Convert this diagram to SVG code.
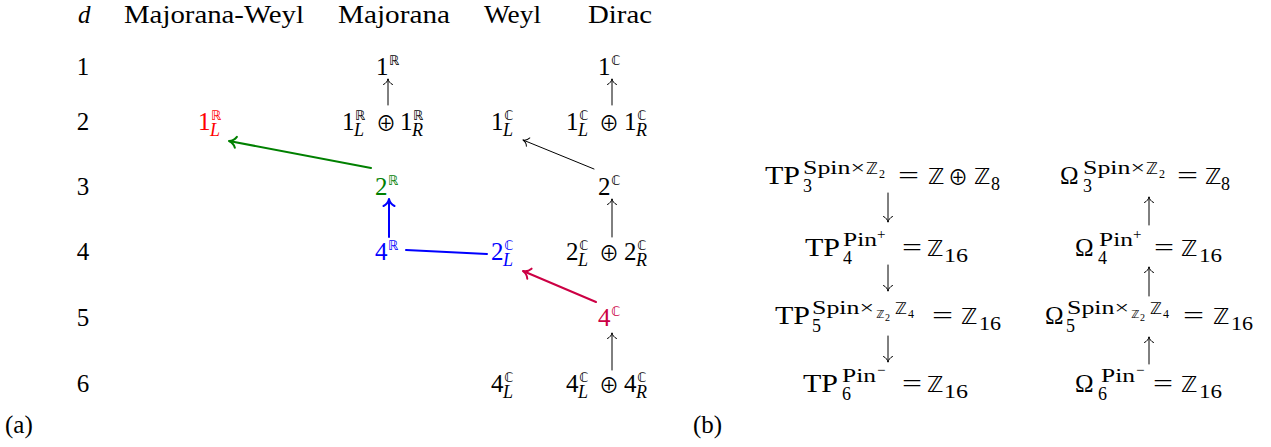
<svg xmlns="http://www.w3.org/2000/svg" width="1271" height="447" viewBox="0 0 1271 447">
<style>
text{font-family:"Liberation Serif","DejaVu Serif",serif;fill:#000}
.r{font-size:25px}
.sc{font-size:18px}
.it{font-style:italic}
.tiny{font-size:12px}
.pm{font-size:15px}
.bbs{font-family:"DejaVu Sans",sans-serif;font-size:13px}
.bbm{font-family:"DejaVu Sans",sans-serif;font-size:22px}
.bbt{font-family:"DejaVu Sans",sans-serif;font-size:16px}
.bbx{font-family:"DejaVu Sans",sans-serif;font-size:11px}
.op{font-family:"Noto Sans CJK JP","DejaVu Sans",sans-serif;font-size:20px}
.red text{fill:#ff0000}
.grn text{fill:#008000}
.blu text{fill:#0000ff}
.crm text{fill:#cc0044}
.ln{fill:none;stroke-linecap:round}
</style>
<defs>
<marker id="ak" viewBox="-7 -6 8 12" markerWidth="8" markerHeight="12" refX="0" refY="0" orient="auto" markerUnits="userSpaceOnUse"><path d="M-5.5,-4.5 C-4.5,-2 -1.8,-0.4 0,0 C-1.8,0.4 -4.5,2 -5.5,4.5" fill="none" stroke="#000" stroke-width="1" stroke-linecap="round"/></marker>
<marker id="ag" viewBox="-9 -7 10 14" markerWidth="10" markerHeight="14" refX="0" refY="0" orient="auto" markerUnits="userSpaceOnUse"><path d="M-7,-5.5 C-5.5,-2.5 -2.2,-0.5 0,0 C-2.2,0.5 -5.5,2.5 -7,5.5" fill="none" stroke="#008000" stroke-width="2" stroke-linecap="round"/></marker>
<marker id="ab" viewBox="-9 -7 10 14" markerWidth="10" markerHeight="14" refX="0" refY="0" orient="auto" markerUnits="userSpaceOnUse"><path d="M-7,-5.5 C-5.5,-2.5 -2.2,-0.5 0,0 C-2.2,0.5 -5.5,2.5 -7,5.5" fill="none" stroke="#0000ff" stroke-width="2" stroke-linecap="round"/></marker>
<marker id="ac" viewBox="-9 -7 10 14" markerWidth="10" markerHeight="14" refX="0" refY="0" orient="auto" markerUnits="userSpaceOnUse"><path d="M-7,-5.5 C-5.5,-2.5 -2.2,-0.5 0,0 C-2.2,0.5 -5.5,2.5 -7,5.5" fill="none" stroke="#cc0044" stroke-width="2" stroke-linecap="round"/></marker>
</defs>

<g id="headers">
<text class="r it" x="78" y="23">d</text>
<text class="r" x="124" y="23" textLength="180" lengthAdjust="spacingAndGlyphs">Majorana-Weyl</text>
<text class="r" x="338" y="23" textLength="112" lengthAdjust="spacingAndGlyphs">Majorana</text>
<text class="r" x="484" y="23" textLength="57" lengthAdjust="spacingAndGlyphs">Weyl</text>
<text class="r" x="588" y="23" textLength="64" lengthAdjust="spacingAndGlyphs">Dirac</text>
</g>
<g id="dcol" text-anchor="middle">
<text class="r" x="83" y="75">1</text>
<text class="r" x="83" y="130">2</text>
<text class="r" x="83" y="195">3</text>
<text class="r" x="83" y="260">4</text>
<text class="r" x="83" y="326">5</text>
<text class="r" x="83" y="392">6</text>
</g>

<g id="n1R"><text class="r" x="376" y="75">1</text><text class="bbs" x="389" y="65">ℝ</text></g>
<g id="n1C"><text class="r" x="598" y="75">1</text><text class="bbs" x="611" y="65">ℂ</text></g>

<g id="n1RL" class="red"><text class="r" x="198" y="130">1</text><text class="bbs" x="211" y="120">ℝ</text><text class="sc it" x="210" y="136">L</text></g>
<g id="n1RLR"><text class="r" x="342" y="130">1</text><text class="bbs" x="355" y="120">ℝ</text><text class="sc it" x="354" y="136">L</text><text class="op" x="376" y="131">⊕</text><text class="r" x="400" y="130">1</text><text class="bbs" x="413" y="120">ℝ</text><text class="sc it" x="412" y="136">R</text></g>
<g id="n1CL"><text class="r" x="491" y="130">1</text><text class="bbs" x="504" y="120">ℂ</text><text class="sc it" x="503" y="136">L</text></g>
<g id="n1CLR"><text class="r" x="566" y="130">1</text><text class="bbs" x="579" y="120">ℂ</text><text class="sc it" x="578" y="136">L</text><text class="op" x="599" y="131">⊕</text><text class="r" x="624" y="130">1</text><text class="bbs" x="637" y="120">ℂ</text><text class="sc it" x="636" y="136">R</text></g>

<g id="n2R" class="grn"><text class="r" x="375" y="195">2</text><text class="bbs" x="388" y="185">ℝ</text></g>
<g id="n2C"><text class="r" x="598" y="195">2</text><text class="bbs" x="611" y="185">ℂ</text></g>

<g id="n4R" class="blu"><text class="r" x="375" y="260">4</text><text class="bbs" x="388" y="250">ℝ</text></g>
<g id="n2CL" class="blu"><text class="r" x="491" y="260">2</text><text class="bbs" x="504" y="250">ℂ</text><text class="sc it" x="503" y="266">L</text></g>
<g id="n2CLR"><text class="r" x="566" y="260">2</text><text class="bbs" x="579" y="250">ℂ</text><text class="sc it" x="578" y="266">L</text><text class="op" x="599" y="261">⊕</text><text class="r" x="624" y="260">2</text><text class="bbs" x="637" y="250">ℂ</text><text class="sc it" x="636" y="266">R</text></g>

<g id="n4C" class="crm"><text class="r" x="598" y="326">4</text><text class="bbs" x="611" y="316">ℂ</text></g>

<g id="n4CL"><text class="r" x="491" y="392">4</text><text class="bbs" x="504" y="382">ℂ</text><text class="sc it" x="503" y="398">L</text></g>
<g id="n4CLR"><text class="r" x="566" y="392">4</text><text class="bbs" x="579" y="382">ℂ</text><text class="sc it" x="578" y="398">L</text><text class="op" x="599" y="393">⊕</text><text class="r" x="624" y="392">4</text><text class="bbs" x="637" y="382">ℂ</text><text class="sc it" x="636" y="398">R</text></g>

<g id="labels">
<text class="r" x="5" y="433">(a)</text>
<text class="r" x="693" y="433">(b)</text>
</g>

<g id="tp3">
<text class="r" x="765" y="184" textLength="35" lengthAdjust="spacingAndGlyphs">TP</text>
<text class="sc" x="803" y="174" textLength="62" lengthAdjust="spacingAndGlyphs">Spin×</text>
<text class="bbt" x="866" y="174">ℤ</text><text class="tiny" x="879" y="178">2</text>
<text class="sc" x="803" y="192">3</text>
<text class="r" x="898" y="184" textLength="21" lengthAdjust="spacingAndGlyphs">=</text>
<text class="bbm" x="928" y="184">ℤ</text>
<text class="op" x="948" y="185">⊕</text>
<text class="bbm" x="974" y="184">ℤ</text><text class="sc" x="991" y="190">8</text>
</g>
<g id="om3">
<text class="r" x="1060" y="184">Ω</text>
<text class="sc" x="1083" y="174" textLength="62" lengthAdjust="spacingAndGlyphs">Spin×</text>
<text class="bbt" x="1146" y="174">ℤ</text><text class="tiny" x="1159" y="178">2</text>
<text class="sc" x="1083" y="192">3</text>
<text class="r" x="1177" y="184" textLength="21" lengthAdjust="spacingAndGlyphs">=</text>
<text class="bbm" x="1205" y="184">ℤ</text><text class="sc" x="1221" y="190">8</text>
</g>

<g id="tp4">
<text class="r" x="805" y="256" textLength="35" lengthAdjust="spacingAndGlyphs">TP</text>
<text class="sc" x="843" y="246" textLength="34" lengthAdjust="spacingAndGlyphs">Pin</text><text class="pm" x="877" y="239">+</text>
<text class="sc" x="843" y="264">4</text>
<text class="r" x="902" y="256" textLength="20" lengthAdjust="spacingAndGlyphs">=</text>
<text class="bbm" x="927" y="256">ℤ</text><text class="sc" x="944" y="262" textLength="24" lengthAdjust="spacingAndGlyphs">16</text>
</g>
<g id="om4">
<text class="r" x="1075" y="256">Ω</text>
<text class="sc" x="1099" y="246" textLength="34" lengthAdjust="spacingAndGlyphs">Pin</text><text class="pm" x="1133" y="239">+</text>
<text class="sc" x="1098" y="264">4</text>
<text class="r" x="1154" y="256" textLength="20" lengthAdjust="spacingAndGlyphs">=</text>
<text class="bbm" x="1181" y="256">ℤ</text><text class="sc" x="1199" y="262" textLength="23" lengthAdjust="spacingAndGlyphs">16</text>
</g>

<g id="tp5">
<text class="r" x="775" y="324" textLength="35" lengthAdjust="spacingAndGlyphs">TP</text>
<text class="sc" x="812" y="314" textLength="62" lengthAdjust="spacingAndGlyphs">Spin×</text>
<text class="bbx" x="876" y="318">ℤ</text><text class="tiny" x="885" y="321" style="font-size:10px">2</text>
<text class="bbt" x="895" y="314">ℤ</text><text class="tiny" x="908" y="318">4</text>
<text class="sc" x="812" y="332">5</text>
<text class="r" x="932" y="324" textLength="21" lengthAdjust="spacingAndGlyphs">=</text>
<text class="bbm" x="961" y="324">ℤ</text><text class="sc" x="979" y="330" textLength="22" lengthAdjust="spacingAndGlyphs">16</text>
</g>
<g id="om5">
<text class="r" x="1045" y="324">Ω</text>
<text class="sc" x="1067" y="314" textLength="62" lengthAdjust="spacingAndGlyphs">Spin×</text>
<text class="bbx" x="1131" y="318">ℤ</text><text class="tiny" x="1140" y="321" style="font-size:10px">2</text>
<text class="bbt" x="1150" y="314">ℤ</text><text class="tiny" x="1163" y="318">4</text>
<text class="sc" x="1066" y="332">5</text>
<text class="r" x="1183" y="324" textLength="21" lengthAdjust="spacingAndGlyphs">=</text>
<text class="bbm" x="1213" y="324">ℤ</text><text class="sc" x="1231" y="330" textLength="22" lengthAdjust="spacingAndGlyphs">16</text>
</g>

<g id="tp6">
<text class="r" x="803" y="392" textLength="35" lengthAdjust="spacingAndGlyphs">TP</text>
<text class="sc" x="842" y="382" textLength="34" lengthAdjust="spacingAndGlyphs">Pin</text><text class="pm" x="877" y="375">−</text>
<text class="sc" x="842" y="400">6</text>
<text class="r" x="902" y="392" textLength="20" lengthAdjust="spacingAndGlyphs">=</text>
<text class="bbm" x="927" y="392">ℤ</text><text class="sc" x="944" y="398" textLength="24" lengthAdjust="spacingAndGlyphs">16</text>
</g>
<g id="om6">
<text class="r" x="1075" y="392">Ω</text>
<text class="sc" x="1101" y="382" textLength="34" lengthAdjust="spacingAndGlyphs">Pin</text><text class="pm" x="1136" y="375">−</text>
<text class="sc" x="1098" y="400">6</text>
<text class="r" x="1153" y="392" textLength="20" lengthAdjust="spacingAndGlyphs">=</text>
<text class="bbm" x="1181" y="392">ℤ</text><text class="sc" x="1199" y="398" textLength="23" lengthAdjust="spacingAndGlyphs">16</text>
</g>

<g id="connectors">
<line class="ln" x1="388" y1="105" x2="388" y2="79" stroke="#000" stroke-width="1" marker-end="url(#ak)"/>
<line class="ln" x1="612" y1="105" x2="612" y2="79" stroke="#000" stroke-width="1" marker-end="url(#ak)"/>
<line class="ln" x1="371" y1="168" x2="229" y2="141" stroke="#008000" stroke-width="2" marker-end="url(#ag)"/>
<line class="ln" x1="594" y1="169" x2="523" y2="140" stroke="#000" stroke-width="1" marker-end="url(#ak)"/>
<line class="ln" x1="389" y1="237" x2="389" y2="199" stroke="#0000ff" stroke-width="2" marker-end="url(#ab)"/>
<line class="ln" x1="406" y1="250" x2="487" y2="254" stroke="#0000ff" stroke-width="2"/>
<line class="ln" x1="612" y1="237" x2="612" y2="199" stroke="#000" stroke-width="1" marker-end="url(#ak)"/>
<line class="ln" x1="596" y1="302" x2="523" y2="271" stroke="#cc0044" stroke-width="2" marker-end="url(#ac)"/>
<line class="ln" x1="612" y1="370" x2="612" y2="333" stroke="#000" stroke-width="1" marker-end="url(#ak)"/>
<line class="ln" x1="888" y1="193" x2="888" y2="222" stroke="#000" stroke-width="1" marker-end="url(#ak)"/>
<line class="ln" x1="888" y1="265" x2="888" y2="291" stroke="#000" stroke-width="1" marker-end="url(#ak)"/>
<line class="ln" x1="888" y1="336" x2="888" y2="362" stroke="#000" stroke-width="1" marker-end="url(#ak)"/>
<line class="ln" x1="1149" y1="225" x2="1149" y2="197" stroke="#000" stroke-width="1" marker-end="url(#ak)"/>
<line class="ln" x1="1149" y1="296" x2="1149" y2="267" stroke="#000" stroke-width="1" marker-end="url(#ak)"/>
<line class="ln" x1="1149" y1="364" x2="1149" y2="337" stroke="#000" stroke-width="1" marker-end="url(#ak)"/>
</g>
</svg>
